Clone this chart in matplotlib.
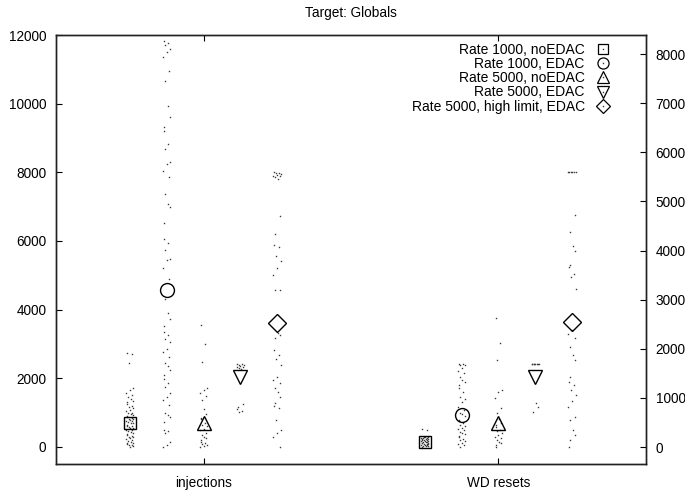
import matplotlib
matplotlib.use("Agg")
import matplotlib.pyplot as plt
from matplotlib.lines import Line2D
from matplotlib.legend_handler import HandlerTuple

plt.rcParams['font.family'] = ['Liberation Sans', 'DejaVu Sans']

# Categories and series
categories = ["injections", "WD resets"]
series = ["Rate 1000, noEDAC", "Rate 1000, EDAC", "Rate 5000, noEDAC",
          "Rate 5000, EDAC", "Rate 5000, high limit, EDAC"]
markers = ["s", "o", "^", "v", "D"]

# Mean value of each series per category
means_injections = [690, 4570, 690, 2040, 3610]
means_wdresets = [145, 930, 700, 2040, 3630]

# Individual runs, injections
inj_r1000_noedac = [2740, 2700, 2450, 1720, 1650, 1580, 1500, 1450, 1400, 1350, 1300,
                    1250, 1200, 1150, 1120, 1080, 1050, 1000, 980, 950, 920, 900, 880,
                    850, 820, 800, 780, 760, 740, 720, 700, 680, 650, 620, 600, 580, 560,
                    540, 500, 480, 450, 420, 400, 380, 350, 320, 300, 280, 250, 220, 200,
                    180, 150, 120, 100, 80, 60, 40, 20, 0]
inj_r1000_edac = [11830, 11780, 11710, 11590, 11500, 11360, 10950, 10660, 9930, 9610,
                  9320, 9200, 8830, 8680, 8300, 8240, 8040, 7870, 7370, 7080, 7000, 6530,
                  6060, 5940, 5740, 5480, 5450, 5210, 4890, 4310, 3900, 3730, 3520, 3350,
                  3250, 3150, 3060, 2850, 2760, 2620, 2450, 2350, 2240, 2100, 1980, 1850,
                  1750, 1570, 1450, 1370, 1220, 990, 930, 870, 730, 500, 450, 410, 150,
                  60, 0]
inj_r5000_noedac = [3550, 3000, 2480, 1720, 1650, 1560, 1480, 1370, 1100, 950, 850, 800,
                    700, 650, 600, 520, 480, 400, 350, 300, 250, 200, 150, 100, 80, 50,
                    20, 0]
inj_r5000_edac = [2420, 2400, 2390, 2380, 2360, 2340, 2320, 2300, 2280, 1250, 1150, 1100,
                  1050, 1020]
inj_r5000_high = [8000, 7990, 7970, 7950, 7930, 7900, 7880, 7850, 7800, 6730, 6200, 5880,
                  5830, 5560, 5420, 5210, 5010, 4570, 4560, 3320, 3250, 3180, 2830, 2680,
                  2560, 2390, 2040, 1950, 1860, 1720, 1600, 1460, 1280, 1200, 1140, 790,
                  500, 400, 290, 0]

# Individual runs, WD resets
wd_r1000_noedac = [520, 480, 300, 290, 280, 270, 260, 250, 240, 230, 220, 210, 200, 190,
                   180, 170, 160, 150, 140, 130, 120, 110, 100, 90, 80, 70, 60, 50, 40,
                   30, 20, 10, 0]
wd_r1000_edac = [2400, 2400, 2390, 2380, 2300, 2220, 2150, 2040, 1960, 1890, 1800, 1700,
                 1600, 1460, 1380, 1310, 1170, 1080, 1000, 950, 900, 790, 740, 700, 650,
                 600, 560, 520, 480, 440, 400, 360, 320, 280, 240, 200, 160, 120, 80, 40,
                 0]
wd_r5000_noedac = [3760, 3030, 2530, 1660, 1600, 1430, 1140, 990, 800, 700, 650, 580, 500,
                   450, 400, 350, 300, 250, 200, 150, 100, 50, 0]
wd_r5000_edac = [2400, 2400, 2400, 2400, 2400, 2400, 2400, 2400, 1280, 1150, 1020]
wd_r5000_high = [8000, 8000, 8000, 8000, 8000, 8000, 6750, 6250, 5850, 5700, 5300, 5250,
                 5040, 4950, 4600, 3400, 3300, 3180, 2910, 2680, 2530, 2040, 1900, 1800,
                 1650, 1500, 1350, 1170, 870, 790, 500, 350, 200, 0]

runs = [
    [inj_r1000_noedac, inj_r1000_edac, inj_r5000_noedac, inj_r5000_edac, inj_r5000_high],
    [wd_r1000_noedac, wd_r1000_edac, wd_r5000_noedac, wd_r5000_edac, wd_r5000_high],
]
means = [means_injections, means_wdresets]

# Horizontal placement of series within a category, and small spread of the run dots
offsets = [-0.25, -0.125, 0.0, 0.125, 0.25]
spread = [-0.010, 0.006, -0.004, 0.012, 0.0, -0.013, 0.008, -0.006, 0.003, 0.010, -0.009]

DOT_COLOR = "#3a3a3a"

fig = plt.figure(figsize=(6.85, 4.91), dpi=100)
ax = fig.add_subplot(111)
fig.subplots_adjust(left=0.0818, right=0.943, top=0.9287, bottom=0.055)

for ci, cat in enumerate(categories):
    xc = ci + 1
    for si in range(len(series)):
        vals = runs[ci][si]
        xs = [xc + offsets[si] + spread[k % len(spread)] for k in range(len(vals))]
        ax.plot(xs, vals, linestyle="none", marker="s", ms=1.0, mew=0,
                color=DOT_COLOR, zorder=2)
        ax.plot([xc + offsets[si]], [means[ci][si]], linestyle="none",
                marker=markers[si], ms=9 if markers[si] in "sD" else 10,
                mfc="none", mec="black", mew=1.0, zorder=3)

ax.set_xlim(0.5, 2.5)
ax.set_ylim(-500, 12000)
ax.set_xticks([1, 2])
ax.set_xticklabels(categories)
ax.set_yticks(range(0, 12001, 2000))
ax.tick_params(axis="both", direction="in", length=4.5, width=0.8, labelsize=9.8,
               top=True, right=False)
ax.tick_params(axis="x", pad=9)
ax.tick_params(axis="y", pad=7)

ax2 = ax.twinx()
ax2.set_ylim(-346, 8390)
ax2.set_yticks(range(0, 8001, 1000))
ax2.tick_params(axis="y", direction="in", length=4.5, width=0.8, labelsize=9.8, pad=7)

for a in (ax, ax2):
    for sp in a.spines.values():
        sp.set_linewidth(1.0)
        sp.set_color("#222222")

ax.set_title("Target: Globals", fontsize=9.8, pad=13)

handles = []
for m in markers:
    big = Line2D([], [], linestyle="none", marker=m, ms=7 if m in "sD" else 8,
                 mfc="none", mec="black", mew=0.9)
    dot = Line2D([], [], linestyle="none", marker="s", ms=1.0, mew=0, color=DOT_COLOR)
    handles.append((big, dot))
ax.legend(handles, series, loc="upper right", frameon=False, markerfirst=False,
          fontsize=10, labelspacing=0.02, handlelength=1.2, handletextpad=0.75,
          borderaxespad=0.15, bbox_to_anchor=(0.955, 1.0),
          handler_map={tuple: HandlerTuple(ndivide=1, pad=0)})

fig.savefig("out.png", dpi=100)
